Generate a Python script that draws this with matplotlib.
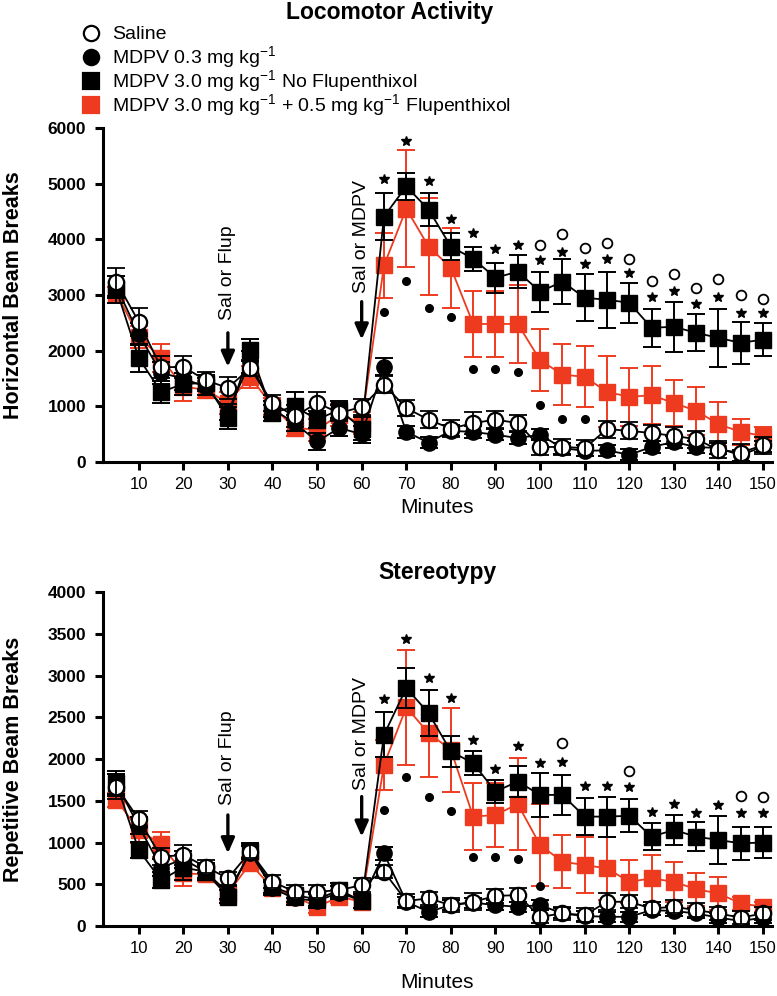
import matplotlib
matplotlib.use("Agg")
import matplotlib.pyplot as plt
from matplotlib.lines import Line2D

plt.rcParams['font.family'] = ['Liberation Sans', 'DejaVu Sans']
plt.rcParams['mathtext.fontset'] = 'custom'
plt.rcParams['mathtext.rm'] = 'Liberation Sans'
plt.rcParams['mathtext.it'] = 'Liberation Sans'
plt.rcParams['mathtext.bf'] = 'Liberation Sans:bold'

RED = '#EE3B1F'

minutes = [5, 10, 15, 20, 25, 30, 35, 40, 45, 50, 55, 60, 65, 70, 75,
           80, 85, 90, 95, 100, 105, 110, 115, 120, 125, 130, 135, 140, 145, 150]
xticks = [10, 20, 30, 40, 50, 60, 70, 80, 90, 100, 110, 120, 130, 140, 150]

# ---------------- Locomotor activity (horizontal beam breaks) ----------------
saline_loc = [3240, 2520, 1700, 1710, 1470, 1330, 1690, 1060, 820, 1060, 880, 990, 1390, 970, 760,
              600, 700, 760, 700, 270, 270, 250, 590, 560, 520, 470, 410, 220, 170, 300]
saline_loc_err = [250, 250, 200, 200, 150, 200, 150, 150, 200, 200, 150, 150, 150, 150, 150,
                  150, 200, 150, 150, 150, 150, 150, 150, 150, 150, 150, 150, 150, 150, 150]
low_loc = [3150, 2300, 1600, 1500, 1350, 900, 1800, 950, 700, 370, 610, 500, 1710, 540, 350,
           560, 540, 490, 430, 490, 250, 200, 210, 130, 270, 360, 270, 250, 120, 280]
low_loc_err = [200, 200, 200, 200, 150, 150, 200, 150, 150, 150, 150, 150, 150, 100, 100,
               100, 100, 100, 100, 100, 100, 100, 100, 100, 100, 100, 100, 100, 100, 100]
high_loc = [3100, 1870, 1260, 1400, 1420, 790, 2010, 880, 1000, 760, 940, 600, 4410, 4950, 4535,
            3870, 3650, 3310, 3420, 3060, 3240, 2950, 2915, 2860, 2410, 2430, 2320, 2230, 2140, 2200]
high_loc_err = [250, 250, 200, 200, 150, 200, 200, 150, 250, 150, 150, 200, 430, 250, 290,
                250, 220, 270, 300, 360, 400, 420, 500, 360, 340, 450, 330, 520, 380, 300]
flup_loc = [3040, 2250, 1870, 1350, 1300, 1060, 1530, 1000, 610, 580, 850, 700, 3530, 4550, 3870,
            3490, 2480, 2480, 2480, 1830, 1570, 1530, 1260, 1170, 1200, 1060, 920, 680, 540, 470]
flup_loc_err = [100, 200, 250, 250, 150, 200, 200, 150, 150, 200, 200, 200, 590, 1050, 870,
                720, 600, 600, 700, 560, 550, 550, 640, 520, 520, 420, 430, 400, 230, 160]

star_loc_t = [65, 70, 75, 80, 85, 90, 95, 100, 105, 110, 115, 120, 125, 130, 135, 140, 145, 150]
star_loc_y = [5090, 5760, 5040, 4370, 4120, 3830, 3900, 3620, 3780, 3560, 3650, 3400, 2970, 3080,
              2830, 2970, 2680, 2680]
ocirc_loc_t = [100, 105, 110, 115, 120, 125, 130, 135, 140, 145, 150]
ocirc_loc_y = [3900, 4100, 3850, 3940, 3650, 3260, 3380, 3130, 3280, 3000, 2920]
dot_loc_t = [65, 70, 75, 80, 85, 90, 95, 100, 105, 110]
dot_loc_y = [2700, 3250, 2770, 2610, 1670, 1670, 1620, 1020, 770, 770]

# ---------------- Stereotypy (repetitive beam breaks) ----------------
saline_st = [1670, 1280, 830, 850, 710, 570, 890, 530, 410, 410, 430, 490, 650, 300, 330,
             250, 290, 360, 370, 110, 150, 130, 290, 290, 210, 230, 190, 150, 100, 150]
saline_st_err = [150, 100, 100, 120, 80, 80, 80, 80, 80, 80, 80, 80, 80, 80, 80,
                 80, 100, 80, 80, 80, 80, 80, 100, 80, 80, 80, 80, 80, 80, 80]
low_st = [1700, 1200, 700, 800, 650, 400, 880, 450, 330, 300, 400, 300, 870, 290, 170,
          250, 280, 250, 230, 250, 150, 120, 110, 110, 190, 180, 150, 100, 60, 100]
low_st_err = [120, 100, 100, 100, 80, 80, 80, 80, 80, 80, 80, 80, 80, 60, 60,
              60, 60, 60, 60, 60, 60, 60, 60, 60, 60, 60, 60, 60, 60, 60]
high_st = [1710, 910, 550, 700, 650, 350, 900, 470, 370, 320, 430, 300, 2290, 2850, 2550,
           2090, 1950, 1610, 1730, 1570, 1570, 1310, 1310, 1320, 1070, 1150, 1070, 1030, 990, 1000]
high_st_err = [150, 100, 100, 150, 100, 80, 100, 80, 80, 80, 80, 80, 270, 240, 280,
               190, 140, 140, 190, 260, 240, 220, 240, 200, 160, 180, 170, 290, 200, 180]
flup_st = [1510, 1150, 980, 630, 620, 390, 750, 450, 350, 230, 350, 290, 1930, 2620, 2310,
           2110, 1310, 1330, 1460, 970, 770, 730, 690, 530, 570, 530, 440, 390, 270, 230]
flup_st_err = [80, 150, 150, 150, 80, 80, 80, 80, 80, 80, 80, 80, 300, 690, 520,
               500, 400, 380, 550, 490, 320, 340, 380, 260, 280, 240, 200, 200, 80, 60]

star_st_t = [65, 70, 75, 80, 85, 90, 95, 100, 105, 110, 115, 120, 125, 130, 135, 140, 145, 150]
star_st_y = [2720, 3440, 2970, 2730, 2230, 1880, 2150, 1950, 1970, 1680, 1680, 1660, 1370, 1460,
             1350, 1450, 1350, 1350]
ocirc_st_t = [105, 120, 145, 150]
ocirc_st_y = [2190, 1860, 1560, 1540]
dot_st_t = [65, 70, 75, 80, 85, 90, 95, 100]
dot_st_y = [1390, 1790, 1550, 1380, 830, 830, 800, 480]

# arrows: (time, text, text_bottom, arrow_tail, arrow_head)
arrows_loc = [(30, 'Sal or Flup', 2550, 2320, 1710), (60, 'Sal or MDPV', 3040, 2880, 2200)]
arrows_st = [(30, 'Sal or Flup', 1450, 1330, 870), (60, 'Sal or MDPV', 1630, 1550, 1070)]

W, H = 777, 996
fig = plt.figure(figsize=(W / 100, H / 100), dpi=100)
ax1 = fig.add_axes([103 / W, 1 - 462 / H, 669 / W, 334 / H])
ax2 = fig.add_axes([103 / W, 1 - 926 / H, 669 / W, 334 / H])

MS_SQ = 11.5
MS_CI = 11


def draw(ax, sal, sal_e, low, low_e, high, high_e, flup, flup_e):
    ax.errorbar(minutes, flup, yerr=flup_e, fmt='none', ecolor=RED, elinewidth=1.4,
                capsize=6.5, capthick=1.4, zorder=2)
    ax.plot(minutes, flup, color=RED, lw=1.3, marker='s', ms=MS_SQ, mfc=RED, mec=RED, zorder=2.1)
    ax.errorbar(minutes, high, yerr=high_e, fmt='none', ecolor='black', elinewidth=1.4,
                capsize=6.5, capthick=1.4, zorder=3)
    ax.plot(minutes, high, color='black', lw=1.3, marker='s', ms=MS_SQ, mfc='black', mec='black',
            zorder=3.1)
    ax.errorbar(minutes, low, yerr=low_e, fmt='none', ecolor='black', elinewidth=1.4,
                capsize=6.5, capthick=1.4, zorder=4)
    ax.plot(minutes, low, color='black', lw=1.3, marker='o', ms=MS_CI, mfc='black', mec='black',
            zorder=4.1)
    ax.plot(minutes, sal, color='black', lw=1.3, marker='o', ms=MS_CI, mfc='white', mec='black',
            mew=1.6, zorder=5)
    ax.errorbar(minutes, sal, yerr=sal_e, fmt='none', ecolor='black', elinewidth=1.3,
                capsize=6.5, capthick=1.3, zorder=5.1)


def style(ax, ymax, ystep, ylabel, xlabelpad):
    ax.set_xlim(2, 152)
    ax.set_ylim(0, ymax)
    ax.set_xticks(xticks)
    ax.set_yticks(list(range(0, ymax + 1, ystep)))
    for s in ['top', 'right']:
        ax.spines[s].set_visible(False)
    for s in ['left', 'bottom']:
        ax.spines[s].set_linewidth(2.2)
    ax.tick_params(axis='both', direction='out', width=2.2, length=6)
    ax.tick_params(axis='y', labelsize=12.5, pad=6)
    ax.tick_params(axis='x', labelsize=12, pad=5)
    for lab in ax.get_yticklabels():
        lab.set_fontweight('bold')
    ax.set_ylabel(ylabel, fontsize=15.5, fontweight='bold')
    ax.yaxis.set_label_coords(-0.118, 0.5)
    ax.set_xlabel('Minutes', fontsize=15, labelpad=xlabelpad)


def annotate(ax, st_t, st_y, oc_t, oc_y, d_t, d_y, arrows):
    ax.plot(st_t, st_y, ls='none', marker='*', ms=7, color='black', zorder=6)
    ax.plot(oc_t, oc_y, ls='none', marker='o', ms=7, mfc='white', mec='black', mew=1.3, zorder=6)
    ax.plot(d_t, d_y, ls='none', marker='o', ms=5.5, color='black', zorder=6)
    for t, txt, ybot, ytail, yhead in arrows:
        ax.text(t, ybot, txt, rotation=90, ha='center', va='bottom', fontsize=14)
        ax.annotate('', xy=(t, yhead), xytext=(t, ytail),
                    arrowprops=dict(arrowstyle='-|>,head_length=0.9,head_width=0.4',
                                    color='black', lw=2.4, shrinkA=0, shrinkB=0))


draw(ax1, saline_loc, saline_loc_err, low_loc, low_loc_err, high_loc, high_loc_err,
     flup_loc, flup_loc_err)
style(ax1, 6000, 1000, 'Horizontal Beam Breaks', 4)
annotate(ax1, star_loc_t, star_loc_y, ocirc_loc_t, ocirc_loc_y, dot_loc_t, dot_loc_y, arrows_loc)

draw(ax2, saline_st, saline_st_err, low_st, low_st_err, high_st, high_st_err, flup_st, flup_st_err)
style(ax2, 4000, 500, 'Repetitive Beam Breaks', 12)
annotate(ax2, star_st_t, star_st_y, ocirc_st_t, ocirc_st_y, dot_st_t, dot_st_y, arrows_st)
ax2.set_title('Stereotypy', fontsize=16.5, fontweight='bold', pad=9, x=0.5)

fig.text(390 / W, 1 - 13 / H, 'Locomotor Activity', ha='center', va='center', fontsize=16.5,
         fontweight='bold')

# legend, drawn row by row in figure pixels
legend_rows = [
    ('o', 'white', 'Saline'),
    ('o', 'black', r'MDPV 0.3 mg kg$^{\mathregular{-1}}$'),
    ('s', 'black', r'MDPV 3.0 mg kg$^{\mathregular{-1}}$ No Flupenthixol'),
    ('s', RED, r'MDPV 3.0 mg kg$^{\mathregular{-1}}$ + 0.5 mg kg$^{\mathregular{-1}}$ Flupenthixol'),
]
row_y = [33, 57, 81, 105]
for (mk, fc, lab), yy in zip(legend_rows, row_y):
    ec = RED if fc == RED else 'black'
    fig.add_artist(Line2D([91 / W], [1 - yy / H], transform=fig.transFigure, ls='none',
                          marker=mk, ms=MS_CI if mk == 'o' else MS_SQ, mfc=fc, mec=ec, mew=1.6))
    fig.text(112 / W, 1 - (yy + 6) / H, lab, ha='left', va='baseline', fontsize=14)

fig.savefig('out.png', dpi=100)
